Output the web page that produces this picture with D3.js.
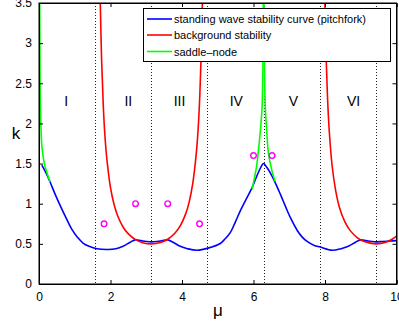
<!DOCTYPE html>
<html><head><meta charset="utf-8">
<script src="https://cdn.jsdelivr.net/npm/d3@7"></script>
<style>
html,body{margin:0;padding:0;background:#fff;}
svg{display:block;font-family:"Liberation Sans",Arial,Helvetica,sans-serif;}
</style></head>
<body>
<svg id="chart" width="399" height="328"></svg>
<script>
// ---- data ----
const xTicks = [0, 2, 4, 6, 8, 10];
const yTicks = [0, 0.5, 1, 1.5, 2, 2.5, 3, 3.5];
const regionLabels = ["I", "II", "III", "IV", "V", "VI"];
const regionCentres = [0.76, 2.5, 3.93, 5.52, 7.12, 8.8];
const dividers = [1.5708, 3.1416, 4.7124, 6.2832, 7.854, 9.4248];

const blueMu = [0.08,0.2,0.31,0.45,0.6,0.75,0.92,1.08,1.23,1.4,1.62,1.93,2.15,2.35,2.55,2.69,2.85,3.0,3.14,3.3,3.45,3.6,3.75,3.95,4.15,4.42,4.75,5.07,5.2,5.35,5.5,5.65,5.8,5.95,6.08,6.2,6.28,6.36,6.45,6.6,6.75,6.9,7.05,7.22,7.35,7.5,7.7,7.87,8.2,8.45,8.65,8.85,8.99,9.15,9.3,9.42,9.6,9.8,10];
const blueK  = [1.48,1.38,1.27,1.12,0.97,0.83,0.68,0.58,0.51,0.47,0.44,0.43,0.44,0.47,0.52,0.55,0.54,0.53,0.525,0.53,0.54,0.55,0.52,0.47,0.44,0.42,0.45,0.505,0.56,0.64,0.78,0.93,1.06,1.19,1.33,1.45,1.5,1.46,1.4,1.27,1.12,0.96,0.81,0.67,0.59,0.53,0.48,0.46,0.42,0.44,0.47,0.52,0.55,0.54,0.53,0.525,0.53,0.535,0.54];

const red1Mu = [1.71,1.75,1.8,1.85,1.9,2.0,2.1,2.2,2.35,2.5,2.7,2.9,3.14,3.4,3.6,3.8,3.95,4.1,4.2,4.3,4.4,4.45,4.5,4.55,4.58];
const red1K  = [3.6,2.81,2.2,1.81,1.55,1.2,0.99,0.85,0.71,0.624,0.553,0.515,0.5,0.517,0.558,0.632,0.724,0.87,1.02,1.25,1.63,1.92,2.37,3.09,3.78];
const red2Mu = [7.99,8.02,8.07,8.12,8.2,8.3,8.4,8.55,8.7,8.9,9.1,9.42,9.7,9.9,10];
const red2K  = [3.68,3.02,2.33,1.9,1.47,1.16,0.96,0.78,0.668,0.578,0.528,0.5,0.519,0.563,0.596];

const green1Mu = [0.02,0.025,0.03,0.04,0.055,0.08,0.15,0.24,0.31];
const green1K  = [3.6,3.0,2.5,2.2,1.95,1.72,1.5,1.36,1.27];
const green2Mu = [5.96,6.08,6.14,6.2,6.24,6.26,6.27,6.275,6.29,6.3,6.31,6.33,6.37,6.42,6.5,6.6];
const green2K  = [1.18,1.45,1.67,1.95,2.2,2.6,3.0,3.6,3.6,3.0,2.6,2.2,1.9,1.62,1.44,1.28];

const circleMu = [1.82, 2.7, 3.6, 4.49, 6.0, 6.52];
const circleK  = [0.75, 1.0, 1.0, 0.75, 1.6, 1.6];

const legendLabels = ["standing wave stability curve (pitchfork)", "background stability", "saddle\u2013node"];
const legendColors = ["#0000ff", "#ff0000", "#00ff00"];

// ---- drawing ----
const svg = d3.select("#chart");
const L = 39, R = 396.5, T = 3, B = 284;
const x = d3.scaleLinear().domain([0, 10]).range([L, R]);
const y = d3.scaleLinear().domain([0, 3.5]).range([B, T]);

svg.append("defs").append("clipPath").attr("id", "clip")
  .append("rect").attr("x", L).attr("y", T).attr("width", R - L).attr("height", B - T);

const plot = svg.append("g").attr("clip-path", "url(#clip)");

// dotted dividers
plot.selectAll("line.div").data(dividers).enter().append("line")
  .attr("x1", d => Math.round(x(d)) + 0.5).attr("x2", d => Math.round(x(d)) + 0.5)
  .attr("y1", T).attr("y2", B)
  .attr("stroke", "#222").attr("stroke-width", 1).attr("stroke-dasharray", "1,2");

const zip = (a, b) => a.map((v, i) => [v, b[i]]);
const curve = d3.line().x(d => x(d[0])).y(d => y(d[1])).curve(d3.curveCatmullRom);

plot.append("path").datum(zip(blueMu, blueK)).attr("d", curve)
  .attr("fill", "none").attr("stroke", legendColors[0]).attr("stroke-width", 1.6);
[zip(red1Mu, red1K), zip(red2Mu, red2K)].forEach(seg => {
  plot.append("path").datum(seg).attr("d", curve)
    .attr("fill", "none").attr("stroke", legendColors[1]).attr("stroke-width", 1.6);
});
[zip(green1Mu, green1K), zip(green2Mu.slice(0, 8), green2K.slice(0, 8)), zip(green2Mu.slice(8), green2K.slice(8))].forEach(seg => {
  plot.append("path").datum(seg).attr("d", curve)
    .attr("fill", "none").attr("stroke", legendColors[2]).attr("stroke-width", 1.6);
});

plot.selectAll("circle.pt").data(zip(circleMu, circleK)).enter().append("circle")
  .attr("cx", d => x(d[0])).attr("cy", d => y(d[1])).attr("r", 2.8)
  .attr("fill", "none").attr("stroke", "#ff00ff").attr("stroke-width", 1.4);

// region labels
svg.selectAll("text.reg").data(regionLabels).enter().append("text")
  .attr("x", (d, i) => x(regionCentres[i])).attr("y", 106)
  .attr("text-anchor", "middle").attr("font-size", 14).text(d => d);

// axes (MATLAB box with inward ticks)
svg.append("rect").attr("x", L).attr("y", T).attr("width", R - L).attr("height", B - T)
  .attr("fill", "none").attr("stroke", "#000").attr("stroke-width", 1);

const xb = svg.append("g").attr("transform", `translate(0,${B})`)
  .call(d3.axisBottom(x).tickValues(xTicks).tickSize(-4).tickPadding(8).tickFormat(d3.format("d")));
const xt = svg.append("g").attr("transform", `translate(0,${T})`)
  .call(d3.axisTop(x).tickValues(xTicks).tickSize(-4).tickFormat(""));
const yl = svg.append("g").attr("transform", `translate(${L},0)`)
  .call(d3.axisLeft(y).tickValues(yTicks).tickSize(-4).tickPadding(7).tickFormat(d => d3.format("")(d)));
const yr = svg.append("g").attr("transform", `translate(${R},0)`)
  .call(d3.axisRight(y).tickValues(yTicks).tickSize(-4).tickFormat(""));
[xb, xt, yl, yr].forEach(g => {
  g.select(".domain").attr("stroke", "#000");
  g.selectAll(".tick line").attr("stroke", "#000");
  g.selectAll("text").attr("font-size", 12).attr("fill", "#000")
    .attr("font-family", "'Liberation Sans',Arial,sans-serif");
});

// axis labels
svg.append("text").attr("x", 16).attr("y", 139).attr("text-anchor", "middle")
  .attr("font-size", 17).text("k");
svg.append("text").attr("x", 218).attr("y", 316).attr("text-anchor", "middle")
  .attr("font-size", 17).text("\u03bc");

// legend
const lg = svg.append("g");
lg.append("rect").attr("x", 143.5).attr("y", 8.5).attr("width", 247).attr("height", 53)
  .attr("fill", "#fff").attr("stroke", "#000").attr("stroke-width", 1);
const ly = [19, 35, 51.5];
legendLabels.forEach((t, i) => {
  lg.append("line").attr("x1", 147).attr("x2", 172).attr("y1", ly[i]).attr("y2", ly[i])
    .attr("stroke", legendColors[i]).attr("stroke-width", 1.6);
  lg.append("text").attr("x", 174).attr("y", ly[i] + 4).attr("font-size", 11).text(t);
});
</script>
</body></html>
